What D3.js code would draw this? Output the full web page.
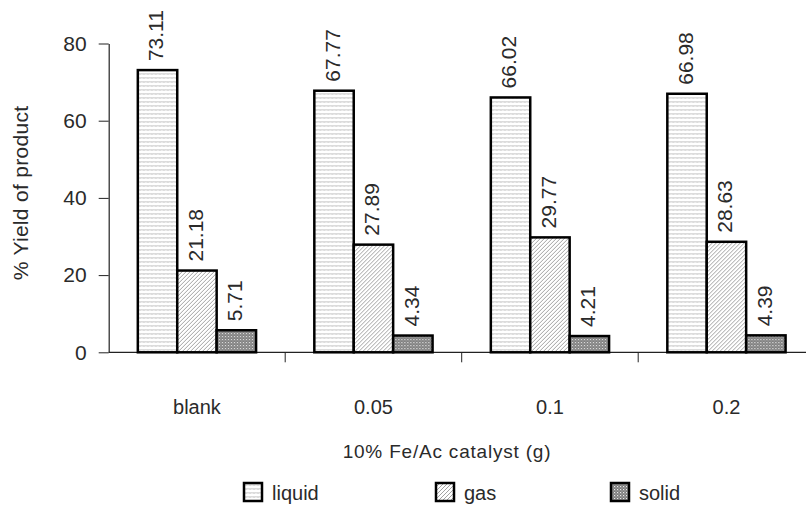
<!DOCTYPE html>
<html><head><meta charset="utf-8">
<script src="https://cdn.jsdelivr.net/npm/d3@7"></script>
<style>
body{margin:0;background:#fff;}
text{font-family:"Liberation Sans",Arial,sans-serif;fill:#2a2a2a;}
</style></head>
<body>
<svg id="chart" width="806" height="507"></svg>
<script>
const categories = ["blank", "0.05", "0.1", "0.2"];
const seriesNames = ["liquid", "gas", "solid"];
const liquid = [73.11, 67.77, 66.02, 66.98];
const gas = [21.18, 27.89, 29.77, 28.63];
const solid = [5.71, 4.34, 4.21, 4.39];
const yTicks = [0, 20, 40, 60, 80];
const xTitle = "10% Fe/Ac catalyst (g)";
const yTitle = "% Yield of product";

const seriesValues = {liquid, gas, solid};
const svg = d3.select("#chart");
const mLeft = 108.7, mRight = 814.7, mTop = 43.5, mBottom = 352.3;

// patterns
const defs = svg.append("defs");
const pl = defs.append("pattern").attr("id","p-liquid").attr("patternUnits","userSpaceOnUse").attr("width",4).attr("height",4);
pl.append("rect").attr("width",4).attr("height",4).attr("fill","#fff");
pl.append("path").attr("d","M0,2.5 L1,1.5 L2,2.5 L3,1.5 L4,2.5").attr("stroke","#9a9a9a").attr("stroke-width",0.8).attr("fill","none");
const pg = defs.append("pattern").attr("id","p-gas").attr("patternUnits","userSpaceOnUse").attr("width",4).attr("height",4);
pg.append("rect").attr("width",4).attr("height",4).attr("fill","#fff");
pg.append("path").attr("d","M-1,5 L5,-1 M-1,1 L1,-1 M3,5 L5,3").attr("stroke","#8a8a8a").attr("stroke-width",0.8);
const ps = defs.append("pattern").attr("id","p-solid").attr("patternUnits","userSpaceOnUse").attr("width",3).attr("height",3);
ps.append("rect").attr("width",3).attr("height",3).attr("fill","#7a7a7a");
ps.append("rect").attr("x",0).attr("y",0).attr("width",1.2).attr("height",1.2).attr("fill","#e8e8e8");
ps.append("rect").attr("x",1.5).attr("y",1.5).attr("width",1).attr("height",1).attr("fill","#c8c8c8");
const fills = {liquid:"url(#p-liquid)", gas:"url(#p-gas)", solid:"url(#p-solid)"};

const x0 = d3.scaleBand().domain(categories).range([mLeft, mRight]).paddingInner(0.33).paddingOuter(0.165);
const x1 = d3.scaleBand().domain(seriesNames).range([0, x0.bandwidth()]);
const y = d3.scaleLinear().domain([0, 80]).range([mBottom, mTop]);

// y axis
const ya = svg.append("g").attr("transform",`translate(${mLeft},0)`)
  .call(d3.axisLeft(y).tickValues(yTicks).tickSize(10).tickPadding(12).tickSizeOuter(0));
ya.select(".domain").attr("stroke","#222").attr("stroke-width",1.2);
ya.selectAll(".tick line").attr("stroke","#222");
ya.selectAll(".tick text").style("font-size","21px").attr("fill","#2a2a2a");

// x axis line and ticks at band boundaries
svg.append("line").attr("x1",mLeft).attr("x2",806).attr("y1",mBottom).attr("y2",mBottom).attr("stroke","#222").attr("stroke-width",1.2);
const bounds = categories.slice(1).map(c => x0(c) - x0.step()*x0.paddingInner()/2);
svg.selectAll(".xtick").data(bounds).join("line").attr("class","xtick")
  .attr("x1",d=>d).attr("x2",d=>d).attr("y1",mBottom).attr("y2",mBottom+10).attr("stroke","#222").attr("stroke-width",1);
svg.selectAll(".xlab").data(categories).join("text").attr("class","xlab")
  .attr("x",d=>x0(d)+x0.bandwidth()/2).attr("y",414).attr("text-anchor","middle")
  .style("font-size","20px").text(d=>d);

// bars
const groups = svg.selectAll(".grp").data(categories).join("g").attr("class","grp")
  .attr("transform",d=>`translate(${x0(d)},0)`);
groups.each(function(c, i){
  const g = d3.select(this);
  seriesNames.forEach(s => {
    const v = seriesValues[s][i];
    g.append("rect").attr("x",x1(s)).attr("width",x1.bandwidth())
      .attr("y",y(v)).attr("height",y(0)-y(v))
      .attr("fill",fills[s]).attr("stroke","#000").attr("stroke-width",2.5);
    const cx = x1(s)+x1.bandwidth()/2 - 1, cy = y(v) - 9;
    g.append("text").attr("transform",`translate(${cx},${cy}) rotate(-90)`)
      .attr("dy","0.33em").attr("text-anchor","start").style("font-size","21px")
      .text(d3.format(".2f")(v));
  });
});

// titles
svg.append("text").attr("x",447).attr("y",458).attr("text-anchor","middle")
  .style("font-size","19px").style("letter-spacing","0.8px").text(xTitle);
svg.append("text").attr("transform","translate(21,193) rotate(-90)").attr("text-anchor","middle")
  .attr("dy","0.35em").style("font-size","21px").style("letter-spacing","0.3px").text(yTitle);

// legend
const legX = [244, 436, 611];
const lg = svg.selectAll(".leg").data(seriesNames).join("g").attr("class","leg")
  .attr("transform",(d,i)=>`translate(${legX[i]},483)`);
lg.append("rect").attr("width",18).attr("height",18).attr("fill",d=>fills[d]).attr("stroke","#000").attr("stroke-width",2.5);
lg.append("text").attr("x",28).attr("y",17).style("font-size","20px").text(d=>d);
</script>
</body></html>
